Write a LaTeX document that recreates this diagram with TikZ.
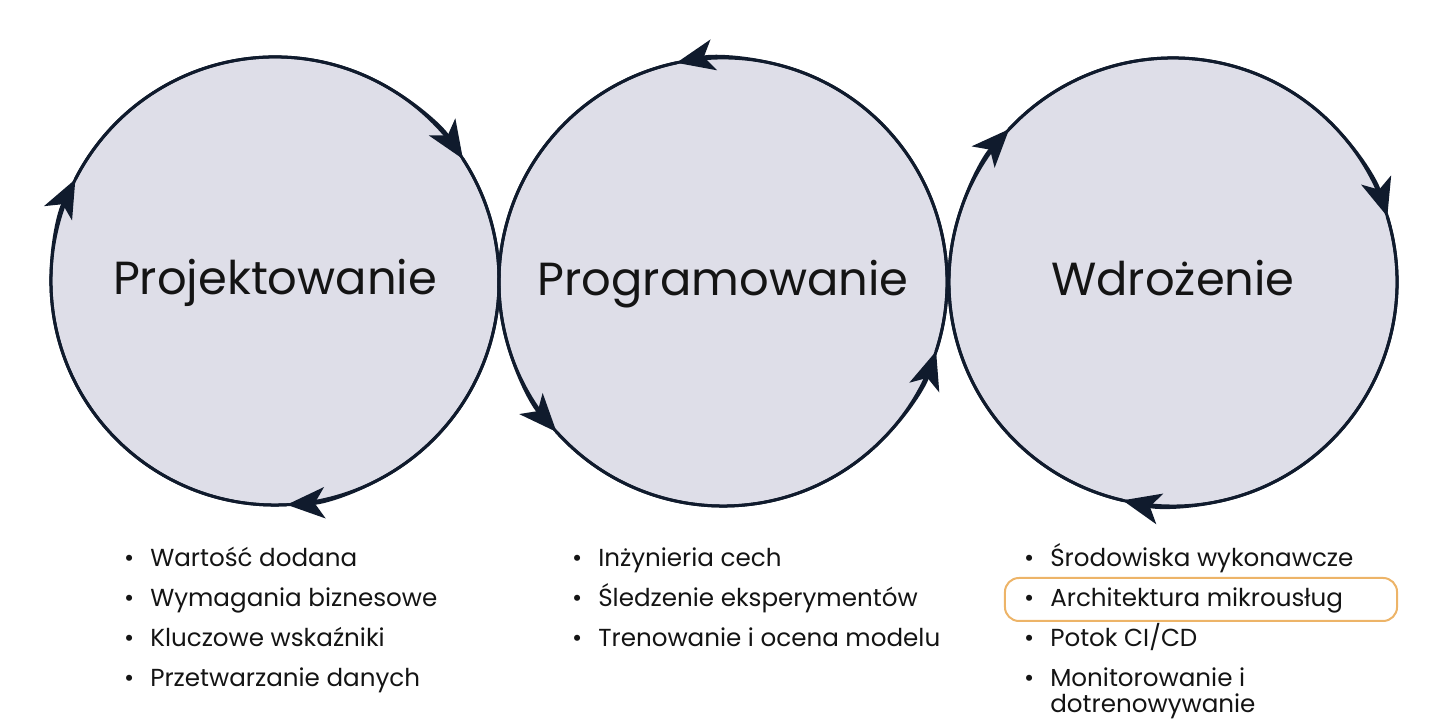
\documentclass[tikz,border=0pt]{standalone}
\usepackage{fontspec}
\setmainfont{Poppins}
\usetikzlibrary{arrows.meta,positioning,calc}
\definecolor{CycNavy}{HTML}{101B2D}
\definecolor{CycFill}{HTML}{DEDEE8}
\definecolor{CycInk}{HTML}{141414}
\definecolor{CycOrange}{HTML}{EDB468}
\newcommand{\dotmark}{\llap{\textbullet\hspace{0.4cm}}}

\begin{document}
\begin{tikzpicture}[x=0.025cm, y=0.025cm,
    phase/.style={
      circle,
      draw=CycNavy,
      fill=CycFill,
      line width=0.075cm,
      minimum size=11.2cm,
      inner sep=0pt,
      outer sep=0pt,
      text height=0.9cm,
      text depth=0.2cm,
      text=CycInk,
      font=\fontsize{33}{39}\selectfont
    },
    turn/.style={
      -{Stealth[length=0.95cm,width=0.78cm,inset=0.25cm]},
      line width=0.075cm,
      draw=CycNavy
    },
    point/.style={
      anchor=base west,
      inner sep=0pt,
      text=CycInk,
      font=\fontsize{17.5}{21}\selectfont
    },
    hlbox/.style={
      rounded corners=0.35cm,
      draw=CycOrange,
      line width=0.05cm,
      minimum width=9.8cm,
      minimum height=1.075cm
    }]

    \useasboundingbox (0,0) rectangle (1440,720);

    % Phase circles
    \node[phase] (proj) at (275,439) {Projektowanie};
    \node[phase] (prog) at (723,438) {Programowanie};
    \node[phase] (wdro) at (1173,438) {Wdrożenie};

    % Cycle arrows
    \draw[turn] (proj.273) arc[start angle=273, end angle=153, radius=5.6cm];
    \draw[turn] (proj.153) arc[start angle=153, end angle=33, radius=5.6cm];
    \draw[turn] (proj.33) arc[start angle=33, end angle=-87, radius=5.6cm];

    \draw[turn] (prog.-18) arc[start angle=-18, end angle=102, radius=5.6cm];
    \draw[turn] (prog.102) arc[start angle=102, end angle=222, radius=5.6cm];
    \draw[turn] (prog.222) arc[start angle=222, end angle=342, radius=5.6cm];

    \draw[turn] (wdro.257) arc[start angle=257, end angle=137, radius=5.6cm];
    \draw[turn] (wdro.137) arc[start angle=137, end angle=17, radius=5.6cm];
    \draw[turn] (wdro.17) arc[start angle=17, end angle=-103, radius=5.6cm];

    % Highlight
    \node[hlbox] (hl) at (1201,120.5) {};

    % Design points
    \node[point] (p1) at (150,153) {\dotmark Wartość dodana};
    \node[point] (p2) at (150,113) {\dotmark Wymagania biznesowe};
    \node[point] (p3) at (150,73) {\dotmark Kluczowe wskaźniki};
    \node[point] (p4) at (150,33) {\dotmark Przetwarzanie danych};

    % Coding points
    \node[point] (c1) at (598,153) {\dotmark Inżynieria cech};
    \node[point] (c2) at (598,113) {\dotmark Śledzenie eksperymentów};
    \node[point] (c3) at (598,73) {\dotmark Trenowanie i ocena modelu};

    % Deployment points
    \node[point] (d1) at (1050,153) {\dotmark Środowiska wykonawcze};
    \node[point] (d2) at (1050,113) {\dotmark Architektura mikrousług};
    \node[point] (d3) at (1050,73) {\dotmark Potok CI/CD};
    \node[point] (d4) at (1050,33) {\dotmark Monitorowanie i};
    \node[point] (d4b) at (1050,7) {dotrenowywanie};
  \end{tikzpicture}
\end{document}
